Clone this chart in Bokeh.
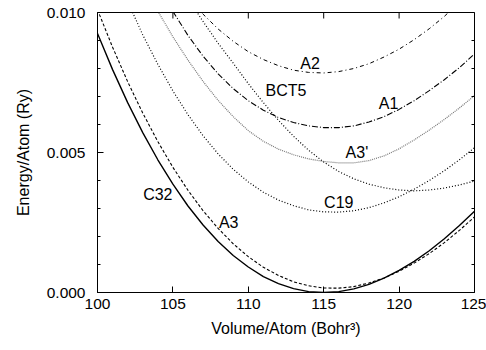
import math
from bokeh.plotting import figure
from bokeh.models import FixedTicker, PrintfTickFormatter, Range1d, ColumnDataSource
from bokeh.core.properties import value
from bokeh.embed import file_html
from bokeh.resources import INLINE

# ---- data ----
vol_c32 = list(range(100, 126))
e_c32 = [0.00925, 0.00796, 0.00678, 0.00571, 0.00474, 0.00387, 0.00309, 0.00241,
         0.00182, 0.00132, 0.00091, 0.00057, 0.00032, 0.00014, 0.00003, 0.00000,
         0.00003, 0.00013, 0.00029, 0.00051, 0.00079, 0.00111, 0.00149, 0.00192,
         0.00239, 0.00290]

vol_a3 = list(range(100, 126))
e_a3 = [0.01010, 0.00876, 0.00753, 0.00641, 0.00539, 0.00447, 0.00365, 0.00292,
        0.00229, 0.00174, 0.00128, 0.00090, 0.00061, 0.00038, 0.00024, 0.00016,
        0.000155, 0.00021, 0.00034, 0.00052, 0.00076, 0.00105, 0.00139, 0.00178,
        0.00222, 0.00270]

vol_c19 = list(range(102, 126))
e_c19 = [0.01040, 0.00920, 0.00815, 0.00720, 0.00635, 0.00560, 0.00495, 0.00440,
         0.00395, 0.00358, 0.00330, 0.00310, 0.00295, 0.00288, 0.00287, 0.00292,
         0.00303, 0.00320, 0.00342, 0.00369, 0.00400, 0.00435, 0.00474, 0.00517]

vol_a3p = list(range(104, 126))
e_a3p = [0.01005, 0.00913, 0.00830, 0.00754, 0.00686, 0.00628, 0.00578, 0.00540,
         0.00512, 0.00492, 0.00477, 0.00468, 0.00463, 0.00463, 0.00471, 0.00488,
         0.00513, 0.00545, 0.00580, 0.00618, 0.00659, 0.00703]

vol_bct5 = list(range(106, 126))
e_bct5 = [0.01050, 0.00968, 0.00890, 0.00819, 0.00746, 0.00678, 0.00615, 0.00558,
          0.00508, 0.00466, 0.00432, 0.00406, 0.00387, 0.00374, 0.00366, 0.00363,
          0.00366, 0.00373, 0.00384, 0.00398]

vol_a1 = list(range(105, 126))
e_a1 = [0.01004, 0.00918, 0.00844, 0.00781, 0.00728, 0.00685, 0.00651, 0.00625,
        0.00607, 0.00595, 0.00589, 0.00589, 0.00595, 0.00609, 0.00628, 0.00654,
        0.00685, 0.00721, 0.00760, 0.00803, 0.00852]

vol_a2 = list(range(106, 125))
e_a2 = [0.01055, 0.00994, 0.00941, 0.00897, 0.00860, 0.00832, 0.00810, 0.00794,
        0.00786, 0.00784, 0.00789, 0.00800, 0.00817, 0.00841, 0.00869, 0.00903,
        0.00942, 0.00986, 0.01038]

label_text = ["A2", "BCT5", "A1", "A3'", "C19", "C32", "A3"]
label_vol = [114.1, 112.5, 119.3, 117.2, 116.0, 104.0, 108.7]
label_e = [0.00817, 0.00721, 0.00674, 0.00499, 0.00320, 0.00349, 0.00249]

x_ticks = [100, 105, 110, 115, 120, 125]
y_ticks = [0.000, 0.005, 0.010]
y_minor = [0.001, 0.002, 0.003, 0.004, 0.006, 0.007, 0.008, 0.009]

X_MIN, X_MAX = 100, 125
Y_MIN, Y_MAX = 0.0, 0.010

FONT = "Liberation Sans"

p = figure(width=486, height=350, output_backend="svg", toolbar_location=None,
           x_range=Range1d(X_MIN, X_MAX), y_range=Range1d(Y_MIN, Y_MAX),
           min_border_left=97, min_border_right=12, min_border_top=12, min_border_bottom=58,
           x_axis_label="Volume/Atom (Bohr³)", y_axis_label="Energy/Atom (Ry)")
p.grid.visible = False
p.outline_line_color = "black"
p.outline_line_width = 1
p.background_fill_color = "white"
p.border_fill_color = "white"

p.line(vol_c32, e_c32, line_color="black", line_width=1.4)
p.line(vol_a3, e_a3, line_color="black", line_width=1.1, line_dash="3 2")
p.line(vol_c19, e_c19, line_color="black", line_width=1.2, line_dash="1 2")
p.line(vol_a3p, e_a3p, line_color="#777777", line_width=1.2, line_dash="1 1")
p.line(vol_bct5, e_bct5, line_color="black", line_width=1.2, line_dash="1 2")
p.line(vol_a1, e_a1, line_color="black", line_width=1.1, line_dash="6 2 1 2")
p.line(vol_a2, e_a2, line_color="black", line_width=1.0, line_dash="4 3 1 3")

src = ColumnDataSource(dict(x=label_vol, y=label_e, t=label_text))
p.text(x="x", y="y", text="t", source=src, text_align="center", text_baseline="middle",
       text_font=value(FONT), text_font_size="16px", text_color="black")

# mirrored inward ticks on the top and right frame edges (half of each dash is clipped)
p.scatter(x=x_ticks, y=[Y_MAX] * len(x_ticks), marker="dash", size=12,
          angle=math.pi / 2, line_color="black", line_width=1)
p.scatter(x=[X_MAX] * len(y_ticks), y=y_ticks, marker="dash", size=12,
          line_color="black", line_width=1)
p.scatter(x=[X_MAX] * len(y_minor), y=y_minor, marker="dash", size=6,
          line_color="black", line_width=1)

for ax in (p.xaxis[0], p.yaxis[0]):
    ax.axis_line_color = "black"
    ax.major_tick_in = 6
    ax.major_tick_out = 0
    ax.minor_tick_in = 3
    ax.minor_tick_out = 0
    ax.major_tick_line_color = "black"
    ax.minor_tick_line_color = "black"
    ax.major_label_text_font = FONT
    ax.major_label_text_color = "black"
    ax.major_label_text_font_size = "15.5px"
    ax.axis_label_text_font = FONT
    ax.axis_label_text_font_style = "normal"
    ax.axis_label_text_font_size = "16px"
    ax.axis_label_text_color = "black"

p.xaxis.ticker = FixedTicker(ticks=x_ticks, minor_ticks=[])
p.yaxis.ticker = FixedTicker(ticks=y_ticks, minor_ticks=y_minor)
p.yaxis.formatter = PrintfTickFormatter(format="%.3f")
p.xaxis.major_label_standoff = 6
p.xaxis.axis_label_standoff = 8
p.yaxis.major_label_standoff = 12
p.yaxis.axis_label_standoff = 12

open("out.html", "w").write(file_html(p, INLINE))
